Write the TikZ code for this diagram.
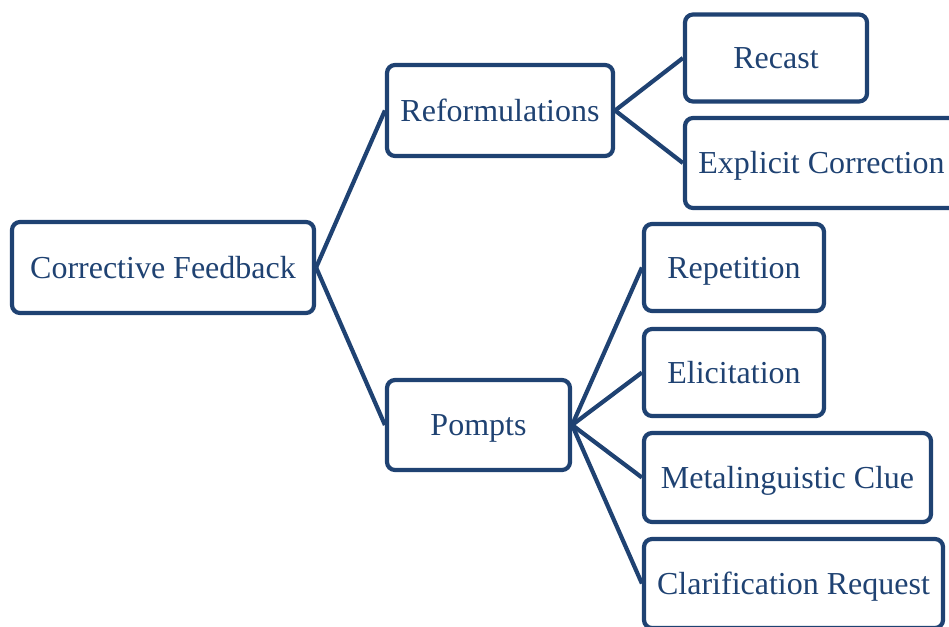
\documentclass[tikz,border=0pt]{standalone}
\usepackage{fontspec}
\setmainfont{Liberation Serif}
\definecolor{navy}{HTML}{1F4272}
\begin{document}
\begin{tikzpicture}[x=1pt,y=-1pt,
  box/.style={draw=navy, line width=4.2pt, rounded corners=8pt, rectangle, inner sep=0pt,
    text height=21pt, text depth=0pt,
    text=navy, font=\fontsize{32}{36}\selectfont},
  link/.style={draw=navy, line width=4.2pt}]
\clip (0,0) rectangle (949,626);
\node[box, minimum width=302pt, minimum height=91pt] (cf) at (163,267.5) {Corrective Feedback};
\node[box, minimum width=226pt, minimum height=91pt] (ref) at (500,110.5) {Reformulations};
\node[box, minimum width=183pt, minimum height=90pt] (pom) at (478.5,425) {Pompts};
\node[box, minimum width=182pt, minimum height=87pt] (rec) at (776,58) {Recast};
\node[box, minimum width=273pt, minimum height=90pt] (exp) at (821.5,163) {Explicit Correction};
\node[box, minimum width=180pt, minimum height=87pt] (rep) at (734,267.5) {Repetition};
\node[box, minimum width=180pt, minimum height=87pt] (eli) at (734,372.5) {Elicitation};
\node[box, minimum width=287pt, minimum height=89pt] (met) at (787.5,477.5) {Metalinguistic Clue};
\node[box, minimum width=299pt, minimum height=89pt] (cla) at (793.5,583.5) {Clarification Request};
\draw[link] (cf.east) -- (ref.west);
\draw[link] (cf.east) -- (pom.west);
\draw[link] (ref.east) -- (rec.west);
\draw[link] (ref.east) -- (exp.west);
\draw[link] (pom.east) -- (rep.west);
\draw[link] (pom.east) -- (eli.west);
\draw[link] (pom.east) -- (met.west);
\draw[link] (pom.east) -- (cla.west);
\end{tikzpicture}
\end{document}
